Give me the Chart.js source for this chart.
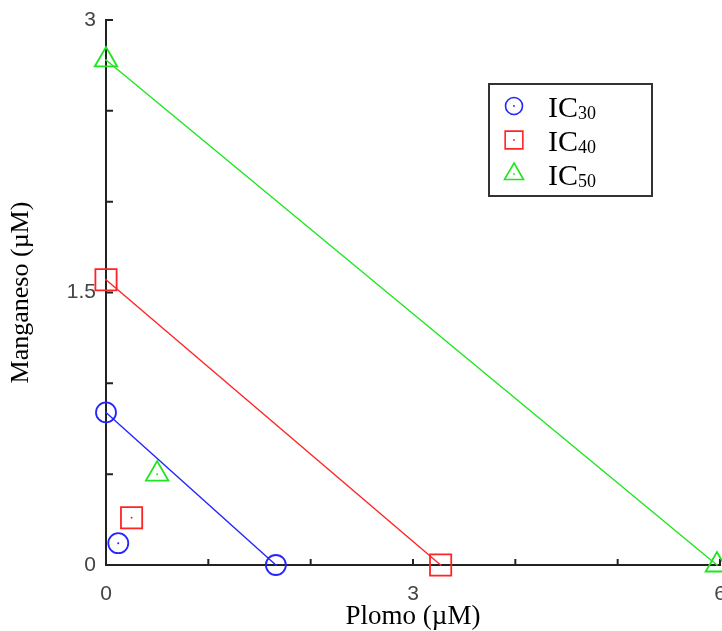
<!DOCTYPE html>
<html><head><meta charset="utf-8">
<script src="https://cdn.jsdelivr.net/npm/chart.js@4/dist/chart.umd.min.js"></script>
<style>html,body{margin:0;padding:0;background:#fff;}#wrap{width:722px;height:631px;position:relative;}</style>
</head><body><div id="wrap"><canvas id="c" width="722" height="631"></canvas></div>
<script>
// ---- data ----
const seriesNames = ['IC30', 'IC40', 'IC50'];
const legendBase = 'IC';
const legendSubs = ['30', '40', '50'];
const ic30LineX = [0, 1.66];
const ic30LineY = [0.84, 0];
const ic40LineX = [0, 3.27];
const ic40LineY = [1.57, 0];
const ic50LineX = [0, 5.97];
const ic50LineY = [2.78, 0];
const comboX = [0.12, 0.25, 0.50];
const comboY = [0.12, 0.26, 0.50];
const xTickLabels = [0, 3, 6];
const yTickLabels = [0, 1.5, 3];
const xTitle = 'Plomo (\u00b5M)';
const yTitle = 'Manganeso (\u00b5M)';

// ---- styles ----
const colors = ['#2424ff', '#ff2424', '#1ee61e'];
const styles = ['circle', 'rect', 'triangle'];
const radii = [10, 15, 13];
const legendRadii = [8.5, 12.5, 11];

const pts = (xs, ys) => xs.map((x, i) => ({x, y: ys[i]}));
const lines = [pts(ic30LineX, ic30LineY), pts(ic40LineX, ic40LineY), pts(ic50LineX, ic50LineY)];

const datasets = [];
seriesNames.forEach((name, i) => {
  datasets.push({
    label: name, data: lines[i], showLine: true, borderColor: colors[i], backgroundColor: 'rgba(0,0,0,0)',
    borderWidth: 1.4, pointStyle: styles[i], pointRadius: radii[i], pointBorderWidth: 1.8,
    pointBorderColor: colors[i], pointBackgroundColor: 'rgba(0,0,0,0)', clip: false, pointHoverRadius: radii[i]
  });
  datasets.push({
    label: name + ' combo', data: [{x: comboX[i], y: comboY[i]}], showLine: false, borderColor: colors[i],
    backgroundColor: 'rgba(0,0,0,0)', pointStyle: styles[i], pointRadius: radii[i], pointBorderWidth: 1.8,
    pointBorderColor: colors[i], pointBackgroundColor: 'rgba(0,0,0,0)', clip: false, pointHoverRadius: radii[i]
  });
});

const inwardTicks = {
  id: 'inwardTicks',
  beforeDatasetsDraw(chart) {
    const {ctx, scales: {x, y}} = chart;
    const x0 = x.getPixelForValue(0), y0 = y.getPixelForValue(0);
    ctx.save();
    ctx.strokeStyle = '#222'; ctx.lineWidth = 2;
    ctx.beginPath();
    x.ticks.forEach(t => { const px = x.getPixelForValue(t.value); ctx.moveTo(px, y0); ctx.lineTo(px, y0 - 6); });
    y.ticks.forEach(t => { const py = y.getPixelForValue(t.value); ctx.moveTo(x0, py); ctx.lineTo(x0 + 7, py); });
    ctx.stroke();
    ctx.restore();
  },
  afterDatasetsDraw(chart) {
    const ctx = chart.ctx;
    ctx.save();
    chart.data.datasets.forEach((ds, di) => {
      const meta = chart.getDatasetMeta(di);
      ctx.fillStyle = ds.pointBorderColor;
      meta.data.forEach(el => { ctx.beginPath(); ctx.arc(el.x, el.y, 1, 0, Math.PI * 2); ctx.fill(); });
    });
    ctx.restore();
  }
};

const boxLegend = {
  id: 'boxLegend',
  afterDraw(chart) {
    const ctx = chart.ctx;
    ctx.save();
    ctx.strokeStyle = '#333'; ctx.lineWidth = 2;
    ctx.strokeRect(489, 84, 163, 112);
    const rows = [106, 140, 174];
    seriesNames.forEach((name, i) => {
      const cy = rows[i];
      ctx.strokeStyle = colors[i]; ctx.fillStyle = 'rgba(0,0,0,0)'; ctx.lineWidth = 1.6;
      Chart.helpers.drawPoint(ctx, {pointStyle: styles[i], radius: legendRadii[i], rotation: 0, borderWidth: 1.6}, 514, cy);
      ctx.fillStyle = colors[i];
      ctx.beginPath(); ctx.arc(514, cy, 0.9, 0, Math.PI * 2); ctx.fill();
      ctx.fillStyle = '#000';
      ctx.textBaseline = 'alphabetic'; ctx.textAlign = 'left';
      ctx.font = '30px "Liberation Serif"';
      ctx.fillText(legendBase, 548, cy + 11);
      const w = ctx.measureText(legendBase).width;
      ctx.font = '18px "Liberation Serif"';
      ctx.fillText(legendSubs[i], 548 + w, cy + 13);
    });
    ctx.restore();
  }
};

new Chart(document.getElementById('c'), {
  type: 'scatter',
  data: {datasets},
  options: {
    responsive: false, animation: false, devicePixelRatio: 1,
    layout: {autoPadding: false, padding: {top: 20, right: 2, left: 0, bottom: 0}},
    plugins: {legend: {display: false}, tooltip: {enabled: false}},
    scales: {
      x: {
        type: 'linear', min: 0, max: 6,
        grid: {drawOnChartArea: false, drawTicks: false},
        border: {display: true, color: '#222', width: 2},
        ticks: {stepSize: 1, autoSkip: false, maxRotation: 0, padding: 17, color: '#444',
          font: {family: 'Liberation Sans', size: 21},
          callback: v => xTickLabels.includes(v) ? String(v) : ''},
        title: {display: true, text: xTitle, color: '#000', font: {family: 'Liberation Serif', size: 27}, padding: {top: 0, bottom: -2}},
        afterFit: s => { s.height = 66; s.paddingLeft = 0; s.paddingRight = 0; }
      },
      y: {
        type: 'linear', min: 0, max: 3,
        grid: {drawOnChartArea: false, drawTicks: false},
        border: {display: true, color: '#222', width: 2},
        ticks: {stepSize: 0.5, autoSkip: false, padding: 10, color: '#444',
          font: {family: 'Liberation Sans', size: 21},
          callback: v => yTickLabels.includes(v) ? String(v) : ''},
        title: {display: true, text: yTitle, color: '#000', font: {family: 'Liberation Serif', size: 26}, padding: {top: 6, bottom: 0}},
        afterFit: s => { s.width = 106; s.paddingTop = 0; s.paddingBottom = 0; }
      }
    }
  },
  plugins: [inwardTicks, boxLegend]
});
</script></body></html>
